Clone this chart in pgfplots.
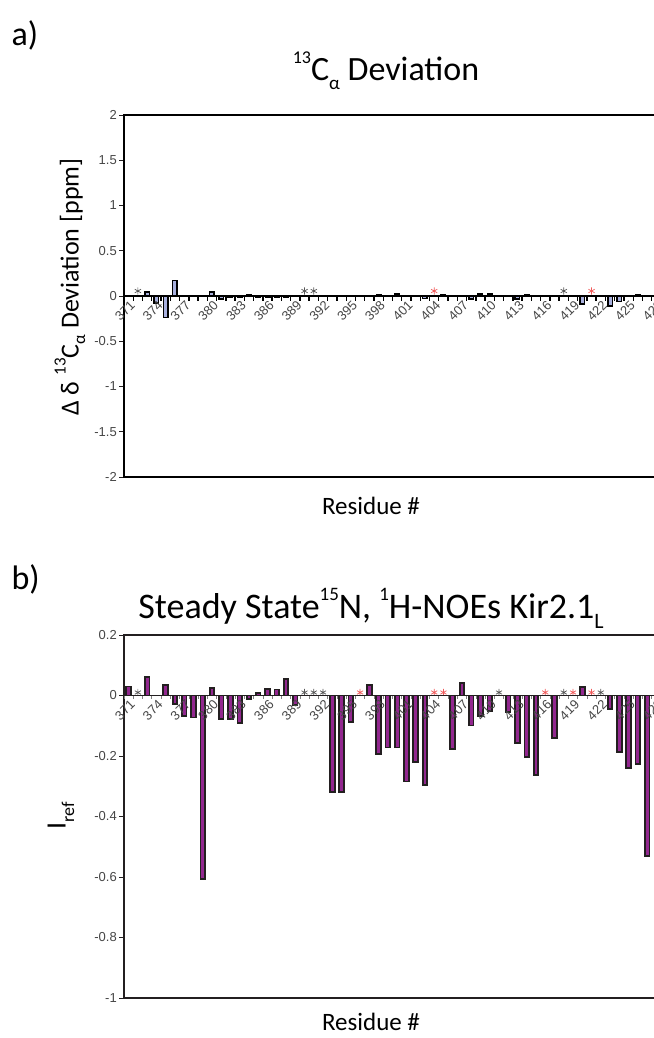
\documentclass[border=0pt]{standalone}
\usepackage{fontspec}
\setmainfont{Carlito}
\newfontfamily\arialf{Liberation Sans}
\usepackage{pgfplots}
\usepackage{pgfplotstable}
\pgfplotsset{compat=1.18}

\definecolor{purp}{RGB}{146,39,143}
\definecolor{lblue}{RGB}{168,176,222}
\definecolor{redast}{RGB}{240,90,90}
\definecolor{grayast}{RGB}{85,85,85}
\definecolor{framec}{RGB}{35,31,32}
\definecolor{ticklab}{RGB}{70,70,70}

\pgfplotstableread{
x y
373 0.045
374 -0.08
375 -0.24
376 0.17
380 0.045
381 -0.035
382 -0.015
383 -0.015
384 0.01
385 -0.01
386 -0.01
387 -0.01
388 -0.01
389 -0.008
398 0.015
400 0.02
403 -0.03
405 0.01
408 -0.035
409 0.02
410 0.02
413 -0.035
414 0.01
420 -0.09
423 -0.11
424 -0.06
426 0.01
}\caBars

\pgfplotstableread{
x y
372 0.055
390 0.055
391 0.055
418 0.055
}\caGray

\pgfplotstableread{
x y
404 0.055
421 0.055
}\caRed

\pgfplotstableread{
x y
371 0.030
373 0.060
375 0.035
376 -0.028
377 -0.067
378 -0.073
379 -0.607
380 0.024
381 -0.078
382 -0.078
383 -0.091
384 -0.011
385 0.007
386 0.022
387 0.020
388 0.055
389 -0.031
393 -0.320
394 -0.320
395 -0.088
397 0.035
398 -0.193
399 -0.172
400 -0.172
401 -0.284
402 -0.221
403 -0.296
406 -0.177
407 0.041
408 -0.099
409 -0.069
410 -0.051
412 -0.055
413 -0.158
414 -0.204
415 -0.262
417 -0.141
420 0.028
423 -0.045
424 -0.188
425 -0.240
426 -0.227
427 -0.530
}\nbBars

\pgfplotstableread{
x y
372 0.01
390 0.01
391 0.01
392 0.01
411 0.01
418 0.01
422 0.01
}\nbGray

\pgfplotstableread{
x y
396 0.01
404 0.01
405 0.01
416 0.01
419 0.01
421 0.01
}\nbRed

\pgfplotsset{
  frameaxis/.style={
    scale only axis, width=537pt,
    xmin=370.5, xmax=428.5,
    axis line style={line width=2pt, draw=framec},
    xtick=\empty,
    ytick pos=left, tick align=outside,
    major tick length=5pt,
    tick style={line width=1pt, draw=framec},
    /pgf/number format/assume math mode=true,
    yticklabel style={font=\arialf\fontsize{13}{13}\selectfont, text=ticklab,
      /pgf/number format/fixed, inner sep=2pt},
    clip=false,
  },
  zeroaxis/.style={
    scale only axis, width=537pt,
    xmin=370.5, xmax=428.5,
    axis x line=middle, axis y line=none,
    xtick={371,374,...,428},
    minor xtick={370.5,371.5,...,428.5},
    tick align=outside,
    /pgf/number format/assume math mode=true,
    xticklabel style={rotate=45, anchor=north east, inner sep=0.5pt,
      xshift=-1.5pt, yshift=-2.5pt,
      font=\arialf\fontsize{13}{13}\selectfont, text=ticklab},
    clip=false,
  },
}

\begin{document}
\begin{tikzpicture}
% ---------- panel a ----------
\begin{axis}[frameaxis, height=362pt, at={(124pt,-477pt)}, anchor=south west,
  ymin=-2, ymax=2, ytick={-2,-1.5,-1,-0.5,0,0.5,1,1.5,2},
  axis line style={line width=2.4pt, draw=black}]
\addplot[ybar, bar width=4.5pt, fill=lblue, draw=black, line width=1.5pt] table[x=x,y=y]{\caBars};
\addplot[only marks, mark=asterisk, mark size=3.6pt, color=grayast, mark options={line width=0.7pt}] table[x=x,y=y]{\caGray};
\addplot[only marks, mark=asterisk, mark size=3.6pt, color=redast, mark options={line width=0.7pt}] table[x=x,y=y]{\caRed};
\end{axis}
\begin{axis}[zeroaxis, height=362pt, at={(124pt,-477pt)}, anchor=south west,
  ymin=-2, ymax=2,
  axis line style={line width=2.4pt, draw=black, -},
  major tick length=0pt, minor tick length=4.5pt,
  minor tick style={line width=1.4pt, draw=black}]
\addplot[draw=none] coordinates {(371,0)};
\end{axis}
% ---------- panel b ----------
\begin{axis}[frameaxis, height=363pt, at={(124pt,-998pt)}, anchor=south west,
  ymin=-1, ymax=0.2, ytick={-1,-0.8,-0.6,-0.4,-0.2,0,0.2}]
\addplot[ybar, bar width=4.6pt, fill=purp, draw=framec, line width=1.8pt] table[x=x,y=y]{\nbBars};
\addplot[only marks, mark=asterisk, mark size=3.5pt, color=grayast, mark options={line width=0.7pt}] table[x=x,y=y]{\nbGray};
\addplot[only marks, mark=asterisk, mark size=3.5pt, color=redast, mark options={line width=0.7pt}] table[x=x,y=y]{\nbRed};
\end{axis}
\begin{axis}[zeroaxis, height=363pt, at={(124pt,-998pt)}, anchor=south west,
  ymin=-1, ymax=0.2,
  axis line style={line width=1.2pt, draw=framec, -},
  major tick length=0pt, minor tick length=3pt,
  minor tick style={line width=0.6pt, draw=gray}]
\addplot[draw=none] coordinates {(371,0)};
\end{axis}
% ---------- texts ----------
\node[anchor=base west, font=\fontsize{34}{34}\selectfont] at (8pt,-46pt) {a)};
\node[anchor=base, font=\fontsize{34}{34}\selectfont] at (386pt,-81pt)
  {\raisebox{0.5em}{\fontsize{18}{18}\selectfont 13}C\raisebox{-0.25em}{\fontsize{19}{19}\selectfont α} Deviation};
\node[rotate=90, font=\fontsize{26}{26}\selectfont] at (70pt,-287pt)
  {Δ δ \raisebox{0.5em}{\fontsize{17}{17}\selectfont 13}C\raisebox{-0.25em}{\fontsize{17}{17}\selectfont α} Deviation [ppm]};
\node[anchor=base, font=\fontsize{25}{25}\selectfont] at (371pt,-514pt) {Residue \#};

\node[anchor=base west, font=\fontsize{34}{34}\selectfont] at (8pt,-589pt) {b)};
\node[anchor=base, font=\fontsize{36}{36}\selectfont] at (371pt,-618pt)
  {Steady State\raisebox{0.5em}{\fontsize{19}{19}\selectfont 15}N, \raisebox{0.5em}{\fontsize{19}{19}\selectfont 1}H-NOEs Kir2.1\raisebox{-0.3em}{\fontsize{22}{22}\selectfont L}};
\node[rotate=90, font=\fontsize{28}{28}\selectfont] at (61pt,-816pt)
  {I\raisebox{-0.3em}{\fontsize{18}{18}\selectfont ref}};
\node[anchor=base, font=\fontsize{25}{25}\selectfont] at (371pt,-1030pt) {Residue \#};
\pgfresetboundingbox
\useasboundingbox (0pt,0pt) rectangle (653pt,-1038pt);
\end{tikzpicture}
\end{document}
